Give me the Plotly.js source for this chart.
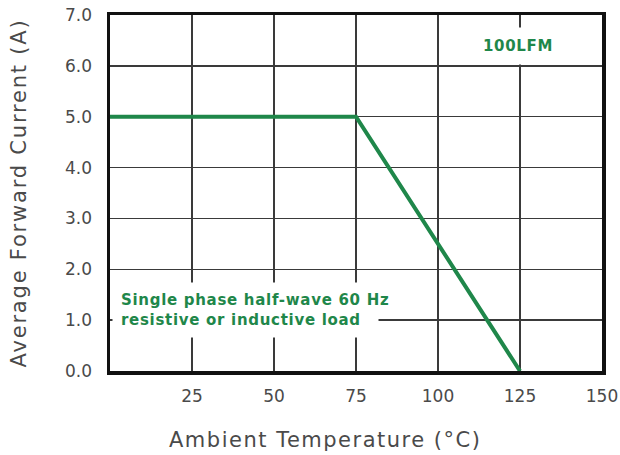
<!DOCTYPE html>
<html>
<head>
<meta charset="utf-8">
<script src="https://cdn.plot.ly/plotly-3.0.1.min.js"></script>
<style>
html,body{margin:0;padding:0;background:#fff}
#chart{width:620px;height:455px}
#chart text.ytitle{letter-spacing:1.8px}
#chart g.annotation[data-index="0"] text{letter-spacing:0.7px}
#chart g.annotation[data-index="1"] text{letter-spacing:0.7px}
#chart g.annotation[data-index="2"] text{letter-spacing:1.5px}
</style>
</head>
<body>
<div id="chart"></div>
<script>
const temperature = [0, 75, 125];
const current = [5.0, 5.0, 0.0];
const xTicks = [25, 50, 75, 100, 125, 150];
const xTickLabels = ["25", "50", "75", "100", "125", "150"];
const yTicks = [0, 1, 2, 3, 4, 5, 6, 7];
const yTickLabels = ["0.0", "1.0", "2.0", "3.0", "4.0", "5.0", "6.0", "7.0"];
const noteText = "Single phase half-wave 60 Hz<br>resistive or inductive load";
const airflowText = "100LFM";
const xTitle = "Ambient Temperature (°C)";
const yTitle = "Average Forward Current (A)";

const green = "#1f874a";
const fam = "DejaVu Sans, Verdana, sans-serif";
const tickFont = {family: fam, size: 17, color: "#4a4a4a"};

const data = [{
  x: temperature, y: current, type: "scatter", mode: "lines",
  line: {color: green, width: 4}, hoverinfo: "skip"
}];

const layout = {
  width: 620, height: 455,
  margin: {l: 110, r: 18, t: 15, b: 84},
  paper_bgcolor: "#fff", plot_bgcolor: "#fff",
  showlegend: false,
  xaxis: {
    range: [0, 150], tickvals: xTicks, ticktext: xTickLabels, ticks: "",
    showgrid: true, gridcolor: "#3a3a3a", gridwidth: 1.5,
    showline: true, linecolor: "#111", linewidth: 3.5, mirror: true,
    zeroline: false, tickfont: tickFont, ticklabelstandoff: 7,
    ticklabeloverflow: "allow"
  },
  yaxis: {
    range: [0, 7], tickvals: yTicks, ticktext: yTickLabels, ticks: "",
    showgrid: true, gridcolor: "#3a3a3a", gridwidth: 1.5,
    showline: true, linecolor: "#111", linewidth: 3.5, mirror: true,
    zeroline: false, tickfont: tickFont, ticklabelstandoff: 11,
    ticklabeloverflow: "allow",
    title: {text: yTitle, font: {family: fam, size: 21, color: "#4a4a4a"}, standoff: 33}
  },
  annotations: [
    {x: 0.5, y: 1.2, xref: "x", yref: "y", xanchor: "left", yanchor: "middle", align: "left",
     text: "<b>" + noteText + "</b>", showarrow: false, bgcolor: "#fff", borderpad: 8,
     font: {family: fam, size: 15, color: green}},
    {x: 124.5, y: 6.4, xref: "x", yref: "y", xanchor: "center", yanchor: "middle",
     text: "<b>" + airflowText + "</b>", showarrow: false, bgcolor: "#fff", borderpad: 9,
     font: {family: fam, size: 15, color: green}},
    {x: 0.437, y: -0.194, xref: "paper", yref: "paper", xanchor: "center", yanchor: "middle",
     text: xTitle, showarrow: false,
     font: {family: fam, size: 21, color: "#4a4a4a"}}
  ]
};

Plotly.newPlot("chart", data, layout, {displayModeBar: false, staticPlot: true});
</script>
</body>
</html>
